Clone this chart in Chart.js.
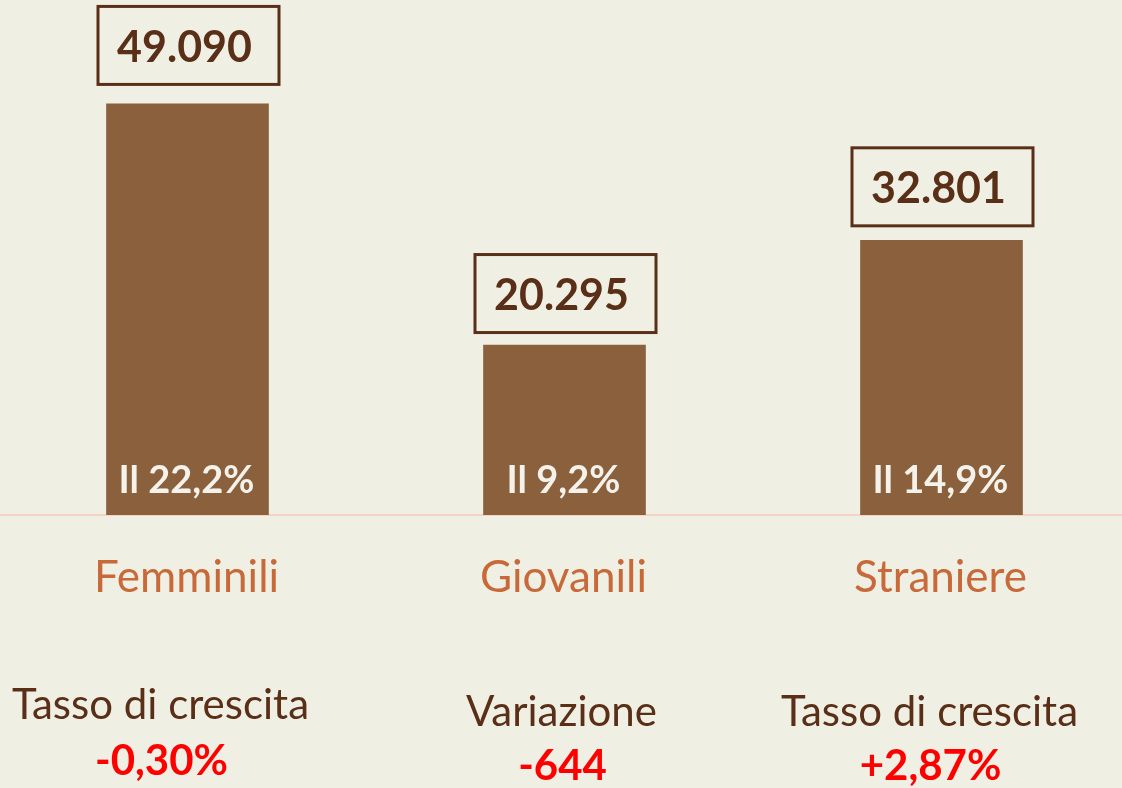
<!DOCTYPE html>
<html>
<head>
<meta charset="utf-8">
<script src="https://cdn.jsdelivr.net/npm/chart.js@4/dist/chart.umd.min.js"></script>
<style>
  html, body { margin: 0; padding: 0; background: #F0EFE4; overflow: hidden; }
  #wrap { position: absolute; left: -1px; top: 0; width: 1131px; height: 788px; }
</style>
</head>
<body>
<div id="wrap"><canvas id="c" width="1131" height="788"></canvas></div>
<script>
// ---- data ----
const categories = ['Femminili', 'Giovanili', 'Straniere'];
const values = [49090, 20295, 32801];
const valueLabels = ['49.090', '20.295', '32.801'];
const shareLabels = ['Il 22,2%', 'Il 9,2%', 'Il 14,9%'];
const noteTitles = ['Tasso di crescita', 'Variazione', 'Tasso di crescita'];
const noteValues = ['-0,30%', '-644', '+2,87%'];

// ---- style ----
const BG = '#F0EFE4';
const BAR = '#8A603D';
const DARK = '#5A2F18';
const CAT = '#C8693A';
const FONT = 'Lato, "Liberation Sans", sans-serif';
const noteOffsets = [-27, -3, -12];
const noteTitleBase = [719, 726, 726];
const noteValueBase = [775, 780, 780];
const boxGaps = [18, 11, 13];

const labelPlugin = {
  id: 'labels',
  afterDatasetsDraw(chart) {
    const ctx = chart.ctx;
    const meta = chart.getDatasetMeta(0);
    const x = chart.scales.x;
    ctx.save();
    ctx.textAlign = 'center';
    ctx.textBaseline = 'alphabetic';
    meta.data.forEach((bar, i) => {
      const cx = bar.x;
      // value box (outer size 184 x 81)
      const ow = 184, oh = 81;
      const top = bar.y - boxGaps[i] - oh;
      const left = cx - ow / 2 + 1;
      ctx.lineWidth = 3;
      ctx.strokeStyle = DARK;
      ctx.strokeRect(left + 1.5, top + 1.5, ow - 3, oh - 3);
      ctx.fillStyle = DARK;
      ctx.font = 'bold 43px ' + FONT;
      ctx.fillText(valueLabels[i], cx - 3, top + 57);
      // share inside bar
      ctx.fillStyle = '#F4F2EA';
      ctx.font = 'bold 38px ' + FONT;
      ctx.fillText(shareLabels[i], cx - 1, bar.base - 22);
      // category label
      const tx = x.getPixelForValue(i);
      ctx.fillStyle = CAT;
      ctx.font = '44px ' + FONT;
      ctx.fillText(categories[i], tx - 1, 592);
      // notes below
      const nx = tx + noteOffsets[i];
      ctx.fillStyle = DARK;
      ctx.font = '42px ' + FONT;
      ctx.fillText(noteTitles[i], nx, noteTitleBase[i]);
      ctx.fillStyle = '#FF0000';
      ctx.font = 'bold 42px ' + FONT;
      ctx.fillText(noteValues[i], nx + 1, noteValueBase[i]);
    });
    ctx.restore();
  }
};

const bgPlugin = {
  id: 'bg',
  beforeDraw(chart) {
    const ctx = chart.ctx;
    ctx.save();
    ctx.fillStyle = BG;
    ctx.fillRect(0, 0, chart.width, chart.height);
    ctx.restore();
  }
};

new Chart(document.getElementById('c'), {
  type: 'bar',
  data: {
    labels: categories,
    datasets: [{
      data: values,
      backgroundColor: BAR,
      borderWidth: 0,
      barThickness: 162
    }]
  },
  options: {
    responsive: false,
    animation: false,
    devicePixelRatio: 1,
    layout: { padding: 0 },
    plugins: { legend: { display: false }, tooltip: { enabled: false } },
    scales: {
      x: {
        grid: { display: false, drawTicks: false },
        border: { display: true, color: '#F2D3C4', width: 2 },
        ticks: { display: false },
        afterFit(scale) { scale.height = 273; }
      },
      y: {
        display: false,
        min: 0,
        max: 61500
      }
    }
  },
  plugins: [bgPlugin, labelPlugin]
});
</script>
</body>
</html>
